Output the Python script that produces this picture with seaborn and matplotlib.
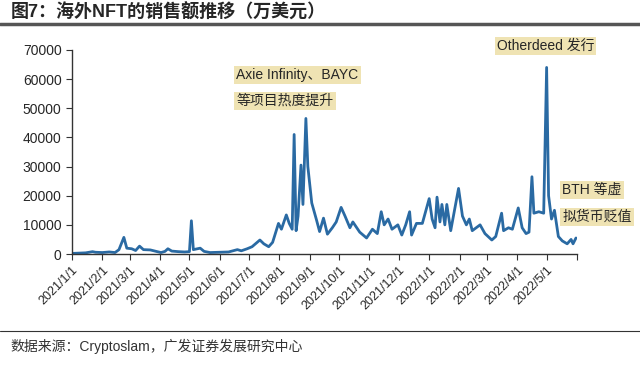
import pandas as pd
import matplotlib.pyplot as plt
from matplotlib.lines import Line2D
import seaborn as sns

# estimated sales (10k USD)
dates = [
    '2021-01-01', '2021-01-08', '2021-01-15', '2021-01-22', '2021-01-25', '2021-02-01',
    '2021-02-08', '2021-02-14', '2021-02-18', '2021-02-23', '2021-02-26', '2021-03-03',
    '2021-03-07', '2021-03-11', '2021-03-15', '2021-03-22', '2021-03-28', '2021-04-02',
    '2021-04-06', '2021-04-09', '2021-04-13', '2021-04-20', '2021-04-26', '2021-05-01',
    '2021-05-03', '2021-05-05', '2021-05-12', '2021-05-16', '2021-05-22', '2021-06-01',
    '2021-06-10', '2021-06-19', '2021-06-23', '2021-06-29', '2021-07-04', '2021-07-12',
    '2021-07-16', '2021-07-21', '2021-07-25', '2021-07-31', '2021-08-03', '2021-08-08',
    '2021-08-11', '2021-08-14', '2021-08-16', '2021-08-18', '2021-08-20', '2021-08-23',
    '2021-08-25', '2021-08-28', '2021-08-30', '2021-09-03', '2021-09-08', '2021-09-11',
    '2021-09-15', '2021-09-19', '2021-09-24', '2021-09-28', '2021-10-03', '2021-10-07',
    '2021-10-12', '2021-10-15', '2021-10-22', '2021-10-29', '2021-11-04', '2021-11-09',
    '2021-11-13', '2021-11-16', '2021-11-20', '2021-11-24', '2021-11-30', '2021-12-04',
    '2021-12-08', '2021-12-12', '2021-12-14', '2021-12-19', '2021-12-25', '2022-01-01',
    '2022-01-04', '2022-01-07', '2022-01-09', '2022-01-12', '2022-01-14', '2022-01-17',
    '2022-01-19', '2022-01-23', '2022-01-31', '2022-02-04', '2022-02-08', '2022-02-11',
    '2022-02-14', '2022-02-22', '2022-02-27', '2022-03-06', '2022-03-10', '2022-03-16',
    '2022-03-18', '2022-03-23', '2022-03-27', '2022-04-02', '2022-04-06', '2022-04-10',
    '2022-04-13', '2022-04-16', '2022-04-18', '2022-04-23', '2022-04-28', '2022-05-01',
    '2022-05-03', '2022-05-06', '2022-05-09', '2022-05-13', '2022-05-17', '2022-05-22',
    '2022-05-26', '2022-05-28', '2022-05-31',
]
sales = [
    200, 300, 400, 800, 600, 500,
    700, 500, 1500, 5700, 2000, 1800,
    1200, 2700, 1500, 1400, 900, 500,
    900, 1800, 1000, 800, 700, 800,
    11400, 1500, 2000, 900, 500, 600,
    700, 1500, 1100, 1800, 2500, 4800,
    3500, 2500, 4000, 10500, 8500, 13400,
    10500, 8500, 41000, 8000, 13000, 30500,
    17000, 46500, 30000, 17500, 11500, 7700,
    12300, 6800, 9000, 11000, 16000, 13000,
    9000, 11000, 7500, 5500, 8500, 7000,
    14500, 10000, 12000, 8500, 10000, 6500,
    10000, 14500, 6500, 10500, 10500, 19000,
    12000, 9000, 19500, 11000, 17000, 10000,
    17000, 8000, 22500, 13000, 10000, 12000,
    8000, 10000, 7000, 4800, 6000, 14000,
    8000, 9000, 8500, 15800, 9000, 7000,
    7500, 26500, 14000, 14500, 14000, 64000,
    20000, 12000, 15000, 6000, 4500, 3500,
    5000, 3500, 5500,
]

df = pd.DataFrame({'date': pd.to_datetime(dates), 'sales': sales})

sns.set_style('ticks')
plt.rcParams['font.family'] = ['Liberation Sans', 'Noto Sans CJK SC', 'DejaVu Sans']

fig = plt.figure(figsize=(6.4, 3.7), dpi=100)
ax = fig.add_axes([0.1125, 0.3135, 0.789, 0.5515])

sns.lineplot(data=df, x='date', y='sales', ax=ax, color='#2a6aa3', linewidth=2)

ax.set_xlim(pd.Timestamp('2021-01-01'), pd.Timestamp('2022-06-01'))
ax.set_ylim(0, 70000)
ax.set_yticks(range(0, 70001, 10000))
ax.set_xlabel('')
ax.set_ylabel('')

month_ticks = pd.date_range('2021-01-01', '2022-06-01', freq='MS')
ax.set_xticks(month_ticks)
ax.set_xticklabels([f'{d.year}/{d.month}/1' for d in month_ticks[:-1]] + [''],
                   rotation=45, ha='right', rotation_mode='anchor', fontsize=9)
ax.tick_params(axis='y', labelsize=10, length=4, color='#333333')
ax.tick_params(axis='x', length=4, color='#333333')
sns.despine(ax=ax)
for s in ['left', 'bottom']:
    ax.spines[s].set_color('#333333')
    ax.spines[s].set_linewidth(1)

box = dict(boxstyle='square,pad=0.15', facecolor='#efe3b3', edgecolor='none')
fs = 10
ax.text(pd.Timestamp('2021-06-18'), 61400, 'Axie Infinity、BAYC', fontsize=fs, bbox=box, va='center')
ax.text(pd.Timestamp('2021-06-18'), 52500, '等项目热度提升', fontsize=fs, bbox=box, va='center')
ax.text(pd.Timestamp('2022-03-11'), 71300, 'Otherdeed 发行', fontsize=fs, bbox=box, va='center',
        clip_on=False)
ax.text(pd.Timestamp('2022-05-17'), 22000, 'BTH 等虚', fontsize=fs, bbox=box, va='center', clip_on=False)
ax.text(pd.Timestamp('2022-05-17'), 12700, '拟货币贬值', fontsize=fs, bbox=box, va='center', clip_on=False)

fig.text(0.016, 0.966, '图7：海外NFT的销售额推移（万美元）', fontsize=13, fontweight='bold',
         va='center', ha='left')
fig.add_artist(Line2D([0, 1], [0.935, 0.935], transform=fig.transFigure, color='#555555', linewidth=2.5))
fig.add_artist(Line2D([0, 1], [0.105, 0.105], transform=fig.transFigure, color='#333333', linewidth=0.8))
fig.text(0.016, 0.065, '数据来源：Cryptoslam，广发证券发展研究中心', fontsize=10, va='center', ha='left',
         color='#333333')

fig.savefig('out.png', dpi=100)
